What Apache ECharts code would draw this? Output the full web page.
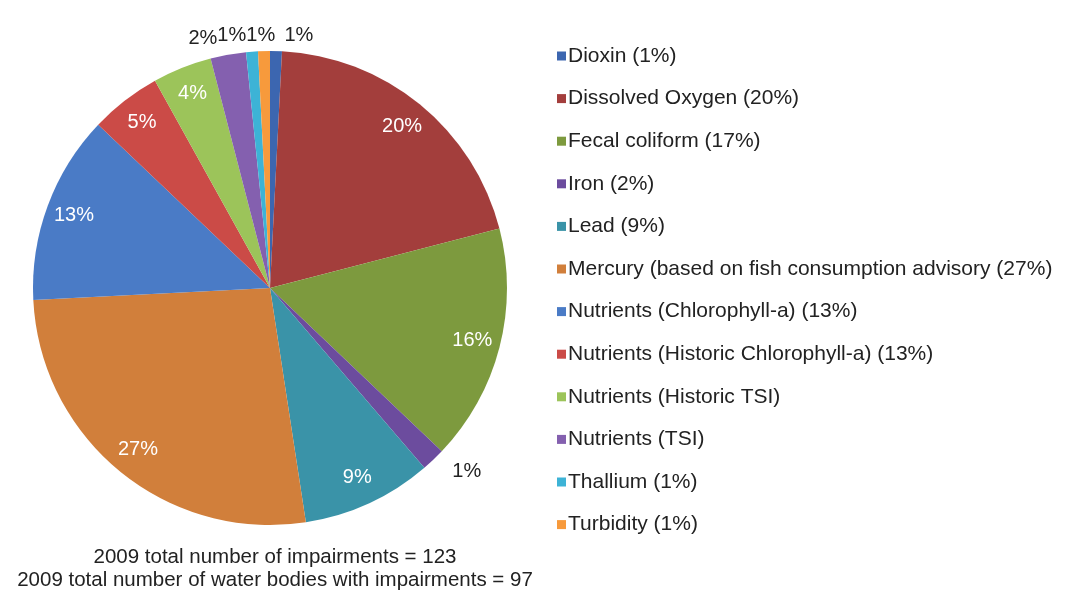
<!DOCTYPE html>
<html>
<head>
<meta charset="utf-8">
<script src="https://cdn.jsdelivr.net/npm/echarts@6/dist/echarts.min.js"></script>
<style>
  html, body { margin: 0; padding: 0; background: #fff; }
  #chart { width: 1067px; height: 594px; }
</style>
</head>
<body>
<div id="chart"></div>
<script>
// legend names, as printed
const categories = [
  'Dioxin (1%)',
  'Dissolved Oxygen (20%)',
  'Fecal coliform (17%)',
  'Iron (2%)',
  'Lead (9%)',
  'Mercury (based on fish consumption advisory (27%)',
  'Nutrients (Chlorophyll-a) (13%)',
  'Nutrients (Historic Chlorophyll-a) (13%)',
  'Nutrients (Historic TSI)',
  'Nutrients (TSI)',
  'Thallium (1%)',
  'Turbidity (1%)',
];
// number of impairments per cause
const counts = [1, 25, 20, 2, 11, 33, 16, 6, 5, 3, 1, 1];
// percent labels printed on the wedges
const sliceLabels = ['1%', '20%', '16%', '1%', '9%', '27%', '13%', '5%', '4%', '2%', '1%', '1%'];
const colors = [
  '#3c66b0', '#a33e3c', '#7d9a3e', '#6c4c9e', '#3a93a8', '#d17f3b',
  '#4a7bc6', '#cb4b47', '#9cc45a', '#8460af', '#3db3d6', '#f79a3c',
];
const footLines = [
  '2009 total number of impairments = 123',
  '2009 total number of water bodies with impairments = 97',
];

const font = '"Liberation Sans", Arial, Helvetica, sans-serif';
const chart = echarts.init(document.getElementById('chart'));

const pieData = categories.map((name, i) => ({
  name,
  value: counts[i],
  itemStyle: { color: colors[i] },
}));

// transparent ring on top, only used to put the labels near the rim
const labelData = categories.map((name, i) => {
  const small = counts[i] <= 3;
  return {
    name,
    value: counts[i],
    label: {
      position: small ? 'outside' : 'inside',
      color: small ? '#222' : '#fff',
      padding: small ? [0, 3] : 0,
      formatter: sliceLabels[i],
    },
  };
});

chart.setOption({
  animation: false,
  backgroundColor: '#fff',
  title: {
    text: footLines.join('\n'),
    left: 270,
    top: 541,
    textAlign: 'center',
    textStyle: {
      fontFamily: font,
      fontSize: 20.5,
      fontWeight: 'normal',
      color: '#222',
      lineHeight: 23,
    },
  },
  legend: {
    orient: 'vertical',
    left: 552,
    top: 40,
    itemWidth: 9,
    itemHeight: 9,
    itemGap: 20.6,
    icon: 'rect',
    selectedMode: false,
    data: categories,
    textStyle: {
      fontFamily: font,
      fontSize: 21,
      color: '#222',
      lineHeight: 22,
      padding: [0, 0, 0, -3],
    },
  },
  series: [
    {
      type: 'pie',
      center: [270, 288],
      radius: 237,
      startAngle: 90,
      clockwise: true,
      silent: true,
      label: { show: false },
      labelLine: { show: false },
      itemStyle: { borderWidth: 0 },
      data: pieData,
    },
    {
      type: 'pie',
      center: [270, 288],
      radius: [175, 237],
      startAngle: 90,
      clockwise: true,
      silent: true,
      legendHoverLink: false,
      avoidLabelOverlap: false,
      itemStyle: { color: 'transparent', borderWidth: 0 },
      label: {
        show: true,
        fontFamily: font,
        fontSize: 20,
      },
      labelLine: { show: false, length: 16, length2: 0 },
      labelLayout: (params) => (counts[params.dataIndex] <= 3 ? { moveOverlap: 'shiftX' } : {}),
      data: labelData,
    },
  ],
});
window.addEventListener('resize', () => { chart.resize(); });
</script>
</body>
</html>
